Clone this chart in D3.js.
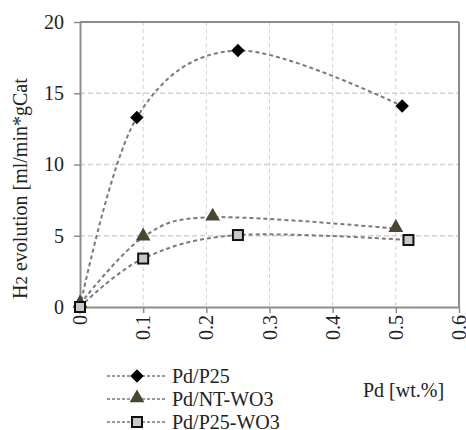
<!DOCTYPE html>
<html><head><meta charset="utf-8">
<script src="https://cdn.jsdelivr.net/npm/d3@7"></script>
<style>
body{margin:0;background:#fff;}
text{font-family:"Liberation Serif","Times New Roman",serif;fill:#222;}
</style></head>
<body><svg id="c" width="466" height="430"></svg>
<script>
const seriesNames = ["Pd/P25", "Pd/NT-WO3", "Pd/P25-WO3"];
const xP25 = [0, 0.09, 0.25, 0.51];
const yP25 = [0, 13.3, 18.0, 14.1];
const xNT = [0, 0.1, 0.21, 0.5];
const yNT = [0.2, 4.9, 6.3, 5.5];
const xPW = [0, 0.1, 0.25, 0.52];
const yPW = [0, 3.4, 5.05, 4.7];
const xTicks = [0, 0.1, 0.2, 0.3, 0.4, 0.5, 0.6];
const yTicks = [0, 5, 10, 15, 20];

const svg = d3.select("#c");
const L = 80, R = 459, T = 22, B = 307;
const x = d3.scaleLinear().domain([0, 0.6]).range([L, R]);
const y = d3.scaleLinear().domain([0, 20]).range([B, T]);

// grid
const g = svg.append("g");
g.selectAll(".vg").data(xTicks.slice(1, -1)).enter().append("line")
  .attr("x1", d => x(d)).attr("x2", d => x(d)).attr("y1", T).attr("y2", B)
  .attr("stroke", "#d2d2d2").attr("stroke-width", 1).attr("stroke-dasharray", "4,3");
g.selectAll(".hg").data(yTicks.slice(1, -1)).enter().append("line")
  .attr("y1", d => y(d)).attr("y2", d => y(d)).attr("x1", L).attr("x2", R)
  .attr("stroke", "#d2d2d2").attr("stroke-width", 1.5).attr("stroke-dasharray", "5,3");

// border top/right
svg.append("line").attr("x1", L).attr("x2", R).attr("y1", T).attr("y2", T).attr("stroke", "#8c8c8c").attr("stroke-width", 2);
svg.append("line").attr("x1", R).attr("x2", R).attr("y1", T).attr("y2", B).attr("stroke", "#8c8c8c").attr("stroke-width", 2);

// axes
const xAxis = svg.append("g").attr("transform", `translate(0,${B})`)
  .call(d3.axisBottom(x).tickValues(xTicks).tickFormat(d => d === 0 ? "0" : d3.format(".1f")(d)).tickSize(6).tickSizeOuter(0));
xAxis.select(".domain").attr("stroke", "#8c8c8c").attr("stroke-width", 2);
xAxis.selectAll(".tick line").attr("stroke", "#8c8c8c").attr("stroke-width", 1.5);
xAxis.selectAll(".tick text")
  .attr("font-size", 20).attr("fill", "#222")
  .attr("text-anchor", "end").attr("dy", "0.33em")
  .attr("transform", "rotate(-90)").attr("x", -8).attr("y", 0);

const yAxis = svg.append("g").attr("transform", `translate(${L},0)`)
  .call(d3.axisLeft(y).tickValues(yTicks).tickSize(6).tickSizeOuter(0).tickPadding(10));
yAxis.select(".domain").attr("stroke", "#8c8c8c").attr("stroke-width", 2);
yAxis.selectAll(".tick line").attr("stroke", "#8c8c8c").attr("stroke-width", 1.5);
yAxis.selectAll(".tick text").attr("font-size", 20).attr("fill", "#222");

// y title
const yt = svg.append("text").attr("transform", "translate(27,299) rotate(-90)")
  .attr("font-size", 20).attr("text-anchor", "start");
yt.append("tspan").text("H");
yt.append("tspan").attr("font-size", 17).text("2");
yt.append("tspan").text(" evolution [ml/min*gCat");

// x title
svg.append("text").attr("x", 363).attr("y", 397).attr("font-size", 20).text("Pd [wt.%]");

// series
const line = d3.line().x(d => x(d[0])).y(d => y(d[1])).curve(d3.curveCardinal.tension(0));
const series = [
  {name: seriesNames[0], pts: d3.zip(xP25, yP25), type: "diamond"},
  {name: seriesNames[1], pts: d3.zip(xNT, yNT), type: "triangle"},
  {name: seriesNames[2], pts: d3.zip(xPW, yPW), type: "square"}
];
series.forEach(s => {
  svg.append("path").attr("d", line(s.pts)).attr("fill", "none")
    .attr("stroke", "#7a7a7a").attr("stroke-width", 2).attr("stroke-dasharray", "4,3");
});
function marker(sel, type, cx, cy) {
  if (type === "diamond") {
    sel.append("path").attr("d", d3.symbol(d3.symbolSquare, 90)())
      .attr("transform", `translate(${cx},${cy}) rotate(45)`)
      .attr("fill", "#000");
  } else if (type === "triangle") {
    sel.append("path").attr("d", d3.symbol(d3.symbolTriangle, 95)())
      .attr("transform", `translate(${cx},${cy-1})`).attr("fill", "#4a4630");
  } else {
    sel.append("rect").attr("x", cx - 5).attr("y", cy - 5).attr("width", 10).attr("height", 10)
      .attr("fill", "#c8c8c8").attr("stroke", "#111").attr("stroke-width", 2);
  }
}
series.forEach(s => {
  s.pts.forEach(p => marker(svg, s.type, x(p[0]), y(p[1])));
});

// legend
const legY = [376, 399, 422];
series.forEach((s, i) => {
  svg.append("line").attr("x1", 107).attr("x2", 166).attr("y1", legY[i]).attr("y2", legY[i])
    .attr("stroke", "#7a7a7a").attr("stroke-width", 1.5).attr("stroke-dasharray", "3,2");
  marker(svg, s.type, 137, legY[i]);
  svg.append("text").attr("x", 172).attr("y", legY[i] + 7).attr("font-size", 20).text(s.name);
});
</script></body></html>
